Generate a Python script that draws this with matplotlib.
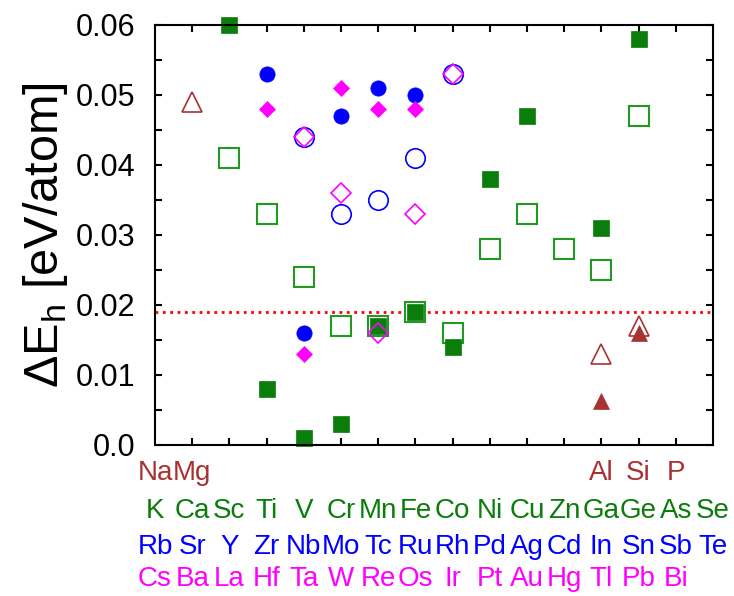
import matplotlib
matplotlib.use('Agg')
import matplotlib.pyplot as plt
from matplotlib.ticker import MultipleLocator

plt.rcParams['font.family'] = ['Liberation Sans', 'DejaVu Sans']
plt.rcParams['mathtext.fontset'] = 'custom'
plt.rcParams['mathtext.rm'] = 'Liberation Sans'

# element labels for the 16 columns (x = 0..15)
row1 = ['Na', 'Mg', '', '', '', '', '', '', '', '', '', '', 'Al', 'Si', 'P', '']
row2 = ['K', 'Ca', 'Sc', 'Ti', 'V', 'Cr', 'Mn', 'Fe', 'Co', 'Ni', 'Cu', 'Zn', 'Ga', 'Ge', 'As', 'Se']
row3 = ['Rb', 'Sr', 'Y', 'Zr', 'Nb', 'Mo', 'Tc', 'Ru', 'Rh', 'Pd', 'Ag', 'Cd', 'In', 'Sn', 'Sb', 'Te']
row4 = ['Cs', 'Ba', 'La', 'Hf', 'Ta', 'W', 'Re', 'Os', 'Ir', 'Pt', 'Au', 'Hg', 'Tl', 'Pb', 'Bi', '']

# period 3 (brown triangles)
p3_open_x = [1, 12, 13]
p3_open_y = [0.049, 0.013, 0.017]
p3_fill_x = [12, 13]
p3_fill_y = [0.0063, 0.016]

# period 4 (green squares)
p4_open_x = [2, 3, 4, 5, 6, 7, 8, 9, 10, 11, 12, 13]
p4_open_y = [0.041, 0.033, 0.024, 0.017, 0.017, 0.019, 0.016, 0.028, 0.033, 0.028, 0.025, 0.047]
p4_fill_x = [2, 3, 4, 5, 6, 7, 8, 9, 10, 12, 13]
p4_fill_y = [0.060, 0.008, 0.001, 0.003, 0.017, 0.019, 0.014, 0.038, 0.047, 0.031, 0.058]

# period 5 (blue circles)
p5_open_x = [4, 5, 6, 7, 8]
p5_open_y = [0.044, 0.033, 0.035, 0.041, 0.053]
p5_fill_x = [3, 4, 5, 6, 7]
p5_fill_y = [0.053, 0.016, 0.047, 0.051, 0.050]

# period 6 (magenta diamonds)
p6_open_x = [4, 5, 6, 7, 8]
p6_open_y = [0.044, 0.036, 0.016, 0.033, 0.053]
p6_fill_x = [3, 4, 5, 6, 7]
p6_fill_y = [0.048, 0.013, 0.051, 0.048, 0.048]

threshold = 0.019

brown = '#a83232'
green = '#0a7d0a'
green_open = '#229922'
blue = '#0000ff'
magenta = '#ff00ff'

fig = plt.figure(figsize=(7.34, 5.96), dpi=100)
ax = fig.add_axes([0.2112, 0.2534, 0.7602, 0.7047])

ax.axhline(threshold, color='red', linestyle=':', linewidth=2)

kw = dict(linestyle='none', clip_on=False)
ax.plot(p4_open_x, p4_open_y, marker='s', ms=14, mfc='white', mec=green_open, mew=1.5, **kw)
ax.plot(p4_fill_x, p4_fill_y, marker='s', ms=11, mfc=green, mec=green, mew=0.5, **kw)
ax.plot(p5_open_x, p5_open_y, marker='o', ms=14, mfc='none', mec=blue, mew=1.2, **kw)
ax.plot(p5_fill_x, p5_fill_y, marker='o', ms=11, mfc=blue, mec=blue, mew=0.5, **kw)
ax.plot(p6_open_x, p6_open_y, marker='D', ms=10, mfc='none', mec=magenta, mew=1.2, **kw)
ax.plot(p6_fill_x, p6_fill_y, marker='D', ms=8.5, mfc=magenta, mec=magenta, mew=0.5, **kw)
ax.plot(p3_open_x, p3_open_y, marker='^', ms=14, mfc='none', mec=brown, mew=1.2, **kw)
ax.plot(p3_fill_x, p3_fill_y, marker='^', ms=11, mfc=brown, mec=brown, mew=0.5, **kw)

ax.set_xlim(0, 15)
ax.set_ylim(0, 0.06)
ax.set_xticks(range(1, 15))
ax.set_xticklabels([])
ax.set_yticks([0, 0.01, 0.02, 0.03, 0.04, 0.05, 0.06])
ax.set_yticklabels(['0.0', '0.01', '0.02', '0.03', '0.04', '0.05', '0.06'], fontsize=22)
ax.yaxis.set_minor_locator(MultipleLocator(0.005))
ax.tick_params(which='both', direction='in', top=True, right=True, length=5, width=1.5, pad=14)
for s in ax.spines.values():
    s.set_linewidth(1.5)

ax.set_ylabel(r'ΔE$_\mathregular{h}$ [eV/atom]', fontsize=35, labelpad=4)

trans = ax.get_xaxis_transform()
for row, color, yy in [(row1, brown, -0.067), (row2, green, -0.157),
                       (row3, blue, -0.243), (row4, magenta, -0.319)]:
    for i, name in enumerate(row):
        if name:
            ax.text(i, yy, name, color=color, fontsize=20, ha='center', va='center',
                    transform=trans, clip_on=False)

fig.savefig('out.png', dpi=100)
